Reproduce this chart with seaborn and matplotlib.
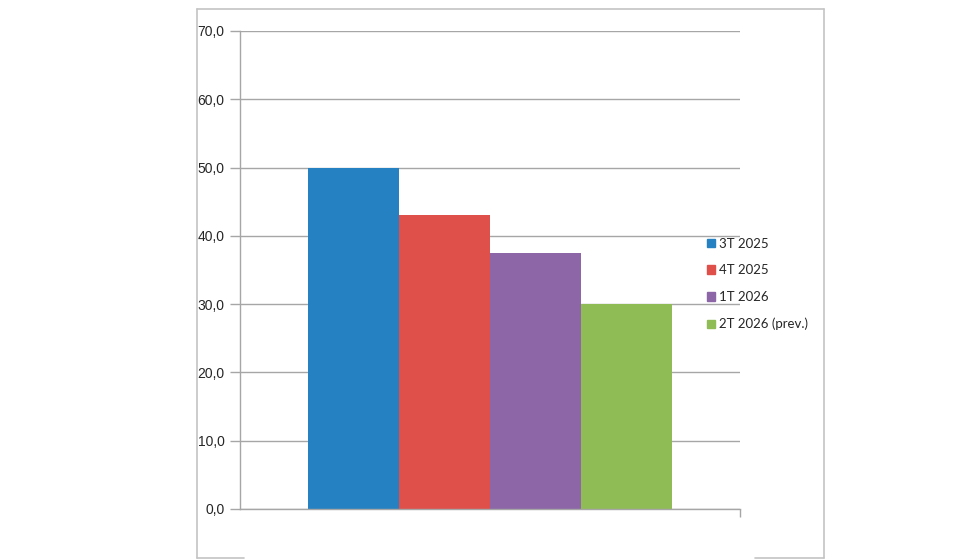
import pandas as pd
import matplotlib
matplotlib.use("Agg")
import matplotlib.pyplot as plt
from matplotlib.lines import Line2D
from matplotlib.ticker import FuncFormatter, MultipleLocator
import seaborn as sns

periods = ['3T 2025', '4T 2025', '1T 2026', '2T 2026 (prev.)']
values = [50.0, 43.0, 37.5, 30.0]
colors = ['#2581C1', '#DF504B', '#8C66A7', '#8FBC54']

df = pd.DataFrame({'cat': [''] * len(periods), 'period': periods, 'value': values})

sns.set_style("white")
plt.rcParams['font.family'] = ['Lato', 'DejaVu Sans']

fig = plt.figure(figsize=(9.8, 5.6), dpi=100)
ax = fig.add_axes([240 / 980, 1 - 509 / 560, 500 / 980, 478 / 560])

sns.barplot(data=df, x='cat', y='value', hue='period', palette=colors,
            width=0.728, saturation=1, linewidth=0, ax=ax, legend=True)

ax.set_ylim(0, 70)
ax.set_xlim(-0.5, 0.5)
ax.yaxis.set_major_locator(MultipleLocator(10))
ax.yaxis.set_major_formatter(FuncFormatter(lambda v, p: f"{v:.1f}".replace('.', ',')))
ax.grid(axis='y', color='#A6A6A6', linewidth=1)
ax.set_axisbelow(True)
ax.set_xlabel('')
ax.set_ylabel('')
ax.set_xticks([0.5])
ax.set_xticklabels([''])
for s in ['top', 'right']:
    ax.spines[s].set_visible(False)
for s in ['left', 'bottom']:
    ax.spines[s].set_color('#A6A6A6')
    ax.spines[s].set_linewidth(1)
ax.tick_params(axis='y', direction='out', length=7, color='#A6A6A6', width=1,
               labelsize=10, pad=4, left=True)
ax.tick_params(axis='x', direction='out', length=6, color='#A6A6A6', width=1, bottom=True)
for t in ax.get_yticklabels():
    t.set_family(['Liberation Sans', 'DejaVu Sans'])

ax.legend_.remove()
handles = [plt.Rectangle((0, 0), 1, 1, color=c) for c in colors]
fig.legend(handles, periods, loc='center left', bbox_to_anchor=(695 / 980, 1 - 284 / 560),
           frameon=False, handlelength=0.6, handleheight=0.6, handletextpad=0.35,
           labelspacing=1.12, fontsize=9.5)

# outer chart frame
frame_col = '#C4C4C4'
def fl(x0, y0, x1, y1):
    fig.add_artist(Line2D([x0 / 980, x1 / 980], [1 - y0 / 560, 1 - y1 / 560],
                          color=frame_col, linewidth=1.2))
fl(197, 9, 824, 9)
fl(197, 9, 197, 558)
fl(824, 9, 824, 558)
fl(197, 558, 244, 558)
fl(755, 558, 824, 558)

fig.savefig('out.png', dpi=100, facecolor='white')
